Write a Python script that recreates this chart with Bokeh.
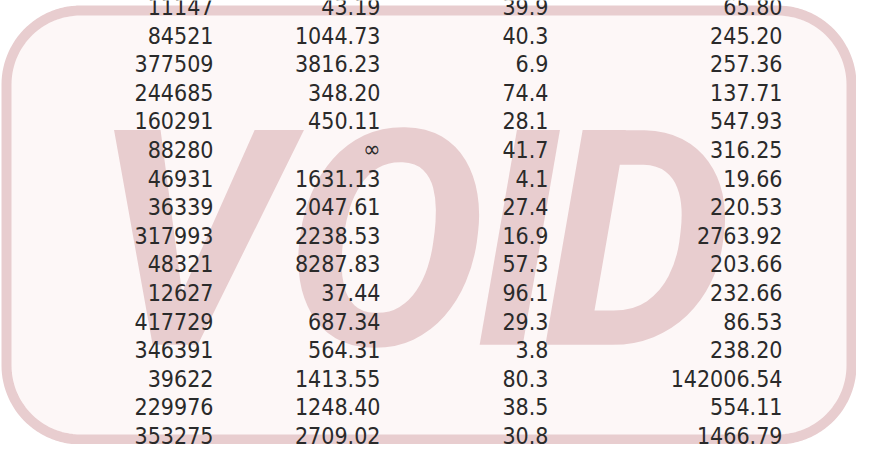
import numpy as np
from bokeh.plotting import figure
from bokeh.models import Range1d, ColumnDataSource
from bokeh.core.properties import value
from bokeh.embed import file_html
from bokeh.resources import INLINE

# ---- data ----
col_a = [11147, 84521, 377509, 244685, 160291, 88280, 46931, 36339,
         317993, 48321, 12627, 417729, 346391, 39622, 229976, 353275]
col_b = [43.19, 1044.73, 3816.23, 348.20, 450.11, float("inf"), 1631.13, 2047.61,
         2238.53, 8287.83, 37.44, 687.34, 564.31, 1413.55, 1248.40, 2709.02]
col_c = [39.9, 40.3, 6.9, 74.4, 28.1, 41.7, 4.1, 27.4,
         16.9, 57.3, 96.1, 29.3, 3.8, 80.3, 38.5, 30.8]
col_d = [65.80, 245.20, 257.36, 137.71, 547.93, 316.25, 19.66, 220.53,
         2763.92, 203.66, 232.66, 86.53, 238.20, 142006.54, 554.11, 1466.79]
stamp_letters = ["V", "O", "I", "D"]

# ---- layout ----
W, H = 856, 444
TEXT_PX = 23
SVG_SHIFT = 0.35                 # empirical baseline correction (in em)
ROW_PITCH = 28.6
FIRST_BASELINE = 14.0 - SVG_SHIFT * TEXT_PX
COL_RIGHT = [213, 380, 548, 782]
TEXT_FONT = "DejaVu Sans Condensed"
TEXT_COLOR = "#2a2a2a"
PINK = "#e8cdcf"
FILL = "#fdf7f7"
STAMP_FONT = "Roboto"
STAMP_PX = 302
STAMP_X = [188, 385, 516, 637]   # letter centres at baseline
STAMP_BASE = 347

y_end = -FIRST_BASELINE / ROW_PITCH
y_start = y_end + H / ROW_PITCH

p = figure(width=W, height=H, x_range=Range1d(0, W), y_range=Range1d(y_start, y_end),
           output_backend="svg", toolbar_location=None, min_border=0,
           x_axis_location=None, y_axis_location=None)
p.extra_y_ranges = {"px": Range1d(H, 0)}
p.grid.visible = False
p.outline_line_color = None
p.background_fill_color = "white"
p.border_fill_color = "white"


def rounded_rect(l, r, t, b, rad, n=30):
    xs, ys = [], []
    corners = [((l + rad, t + rad), 180, 270), ((r - rad, t + rad), 270, 360),
               ((r - rad, b - rad), 0, 90), ((l + rad, b - rad), 90, 180)]
    for (cx, cy), a0, a1 in corners:
        ang = np.radians(np.linspace(a0, a1, n))
        xs.extend(cx + rad * np.cos(ang))
        ys.extend(cy + rad * np.sin(ang))
    return xs, ys


# stamp (behind the table text)
sx, sy = rounded_rect(6, 851, 10, 439, 74)
p.patch(sx, sy, fill_color=FILL, line_color=PINK, line_width=10, y_range_name="px")
p.text(x=STAMP_X, y=[STAMP_BASE - SVG_SHIFT * STAMP_PX] * 4, text=stamp_letters,
       y_range_name="px",
       text_font=value(STAMP_FONT), text_font_size=f"{STAMP_PX}px",
       text_font_style="bold italic", text_color=PINK,
       text_align="center", text_baseline="alphabetic")

# table text
rows = list(range(len(col_a)))
columns = [
    [str(v) for v in col_a],
    ["∞" if np.isinf(v) else f"{v:.2f}" for v in col_b],
    [f"{v:.1f}" for v in col_c],
    [f"{v:.2f}" for v in col_d],
]
for xr, labels in zip(COL_RIGHT, columns):
    src = ColumnDataSource(dict(x=[xr] * len(rows), y=rows, t=labels))
    p.text(x="x", y="y", text="t", source=src,
           text_font=value(TEXT_FONT), text_font_size=f"{TEXT_PX}px",
           text_color=TEXT_COLOR, text_align="right", text_baseline="alphabetic")

open("out.html", "w").write(file_html(p, INLINE))
